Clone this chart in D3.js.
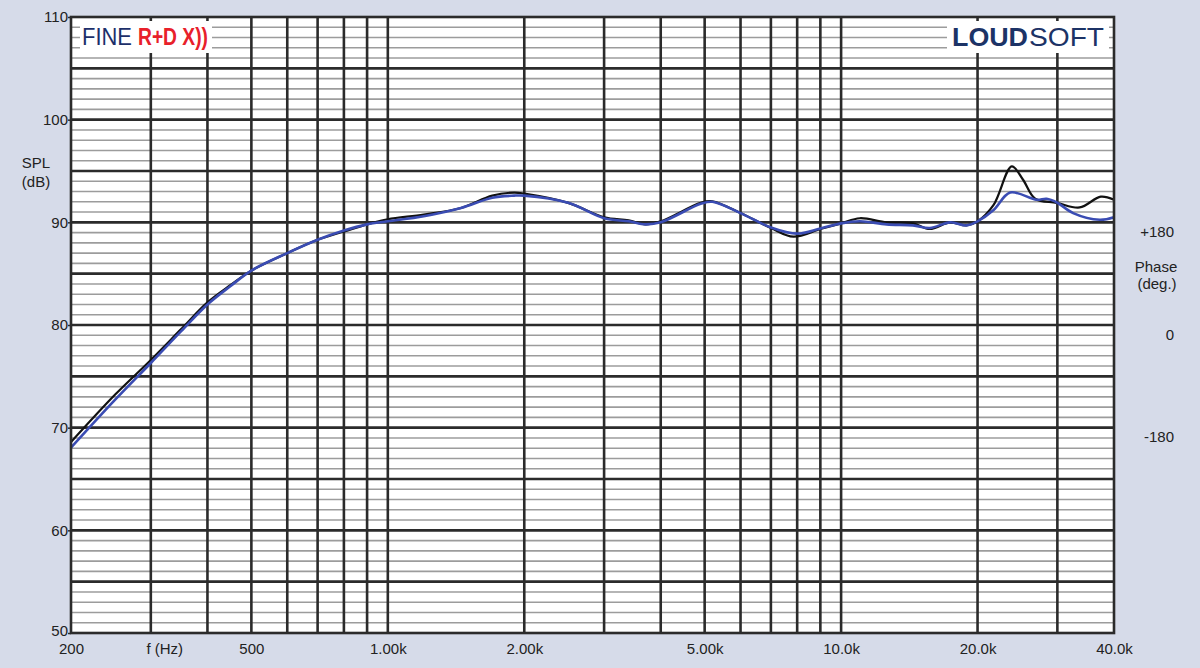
<!DOCTYPE html>
<html>
<head>
<meta charset="utf-8">
<script src="https://cdn.jsdelivr.net/npm/d3@7"></script>
<style>
  html, body { margin: 0; padding: 0; background: #d6dbe9; }
  svg { display: block; }
  text { font-family: "Liberation Sans", Arial, sans-serif; fill: #222; }
</style>
</head>
<body>
<svg id="chart" width="1200" height="668"></svg>
<script>
// ---- Data ----
const measuredFreq = [200, 250, 300, 350, 400, 450, 500, 600, 700, 800, 900, 1000, 1200, 1450, 1700, 1900, 2000, 2500, 3000, 3400, 3700, 4000, 4900, 5200, 6000, 7000, 7850, 9000, 10000, 11000, 12600, 14400, 15700, 17400, 18900, 20000, 21700, 23800, 25200, 26800, 29900, 33600, 37400, 40000];
const measuredSPL  = [68.6, 73.2, 76.6, 79.6, 82.2, 83.9, 85.3, 87.0, 88.3, 89.1, 89.8, 90.3, 90.75, 91.4, 92.6, 92.9, 92.8, 91.9, 90.5, 90.2, 89.8, 90.1, 91.9, 92.05, 90.9, 89.45, 88.6, 89.35, 89.9, 90.4, 90.0, 89.9, 89.35, 90.0, 89.7, 90.1, 91.7, 95.45, 94.15, 92.3, 91.9, 91.45, 92.5, 92.2];

const simFreq = [200, 250, 300, 350, 400, 450, 500, 600, 700, 800, 900, 1000, 1200, 1450, 1700, 1900, 2000, 2500, 3000, 3400, 3700, 4000, 4900, 5200, 6000, 7000, 8000, 9000, 10000, 11000, 12600, 14400, 15700, 17400, 18900, 20000, 21700, 23600, 27000, 28400, 29900, 32500, 37200, 40000];
const simSPL  = [68.05, 72.7, 76.3, 79.4, 82.0, 83.8, 85.3, 87.0, 88.3, 89.2, 89.8, 90.1, 90.6, 91.4, 92.4, 92.6, 92.6, 91.9, 90.4, 90.1, 89.8, 90.0, 91.8, 92.0, 90.9, 89.5, 88.9, 89.4, 89.9, 90.1, 89.8, 89.7, 89.45, 90.0, 89.7, 90.1, 91.2, 92.9, 92.2, 92.3, 91.95, 90.9, 90.25, 90.5];

const freqGrid = [300, 400, 500, 600, 700, 800, 900, 1000, 2000, 3000, 4000, 5000, 6000, 7000, 8000, 9000, 10000, 20000, 30000];
const freqTickValues = [200, 500, 1000, 2000, 5000, 10000, 20000, 40000];
const freqTickLabels = ["200", "500", "1.00k", "2.00k", "5.00k", "10.0k", "20.0k", "40.0k"];
const splTicks = [50, 60, 70, 80, 90, 100, 110];
const phaseTicks = [180, 0, -180];
const phaseTickLabels = ["+180", "0", "-180"];

// ---- Layout ----
const svg = d3.select("#chart");
const L = 71, R = 1114, T = 17, B = 633;
const FS = 15;

const x = d3.scaleLog().domain([200, 40000]).range([L, R]);
const y = d3.scaleLinear().domain([50, 110]).range([B, T]);
const yPhase = d3.scaleLinear().domain([-180, 180]).range([437, 232]);

// plot background
svg.append("rect").attr("x", L).attr("y", T).attr("width", R - L).attr("height", B - T).attr("fill", "#fff");

// minor horizontal grid (1 dB)
const minor = d3.range(51, 110).filter(d => d % 5 !== 0);
svg.append("g").selectAll("line").data(minor).join("line")
  .attr("x1", L).attr("x2", R)
  .attr("y1", d => y(d)).attr("y2", d => y(d))
  .attr("stroke", "#9c9c9c").attr("stroke-width", 1.6);

// major horizontal grid (5 dB)
const major = d3.range(55, 110, 5);
svg.append("g").selectAll("line").data(major).join("line")
  .attr("x1", L).attr("x2", R)
  .attr("y1", d => y(d)).attr("y2", d => y(d))
  .attr("stroke", "#2b2b2b").attr("stroke-width", 2.6);

// vertical grid
svg.append("g").selectAll("line").data(freqGrid).join("line")
  .attr("x1", d => x(d)).attr("x2", d => x(d))
  .attr("y1", T).attr("y2", B)
  .attr("stroke", "#2b2b2b").attr("stroke-width", 2.6);

// logo boxes (cover grid)
svg.append("rect").attr("x", 80).attr("y", 21).attr("width", 132).attr("height", 32).attr("fill", "#fff");
svg.append("rect").attr("x", 947).attr("y", 21).attr("width", 162).attr("height", 32).attr("fill", "#fff");

// curves
const line = d3.line()
  .x(d => x(d[0])).y(d => y(d[1]))
  .curve(d3.curveCatmullRom.alpha(0.5));

svg.append("path")
  .datum(measuredFreq.map((f, i) => [f, measuredSPL[i]]))
  .attr("d", line).attr("fill", "none")
  .attr("stroke", "#111").attr("stroke-width", 2.2);

svg.append("path")
  .datum(simFreq.map((f, i) => [f, simSPL[i]]))
  .attr("d", line).attr("fill", "none")
  .attr("stroke", "#3a4cb3").attr("stroke-width", 2.6);

// frame
svg.append("rect").attr("x", L).attr("y", T).attr("width", R - L).attr("height", B - T)
  .attr("fill", "none").attr("stroke", "#2b2b2b").attr("stroke-width", 2.6);

// left axis labels
const yAxis = d3.axisLeft(y).tickValues(splTicks).tickSize(3).tickPadding(0).tickFormat(d3.format("d"));
const gy = svg.append("g").attr("transform", `translate(${L},0)`).call(yAxis);
gy.select(".domain").remove();
gy.selectAll(".tick line").attr("stroke", "#2b2b2b").attr("stroke-width", 1.5);
gy.selectAll(".tick text").attr("font-size", FS).attr("fill", "#222")
  .attr("font-family", "Liberation Sans, Arial, sans-serif");
gy.selectAll(".tick text").filter(d => d === 50).attr("dy", "0.18em");

// bottom axis labels
const xAxis = d3.axisBottom(x).tickValues(freqTickValues).tickSize(0).tickPadding(10)
  .tickFormat((d, i) => freqTickLabels[i]);
const gx = svg.append("g").attr("transform", `translate(0,${B})`).call(xAxis);
gx.select(".domain").remove();
gx.selectAll(".tick text").attr("font-size", FS).attr("fill", "#222")
  .attr("font-family", "Liberation Sans, Arial, sans-serif");

svg.append("text").attr("x", x(322)).attr("y", 654).attr("text-anchor", "middle")
  .attr("font-size", FS).text("f (Hz)");

// SPL label
svg.append("text").attr("x", 36).attr("y", 168).attr("text-anchor", "middle").attr("font-size", FS).text("SPL");
svg.append("text").attr("x", 36).attr("y", 187).attr("text-anchor", "middle").attr("font-size", FS).text("(dB)");

// phase axis labels
svg.append("g").selectAll("text").data(phaseTicks).join("text")
  .attr("x", 1174).attr("y", d => yPhase(d) + 5).attr("text-anchor", "end")
  .attr("font-size", FS).text((d, i) => phaseTickLabels[i]);
svg.append("text").attr("x", 1156).attr("y", 272).attr("text-anchor", "middle").attr("font-size", FS).text("Phase");
svg.append("text").attr("x", 1157).attr("y", 289).attr("text-anchor", "middle").attr("font-size", FS).text("(deg.)");

// logos
svg.append("text").attr("x", 82).attr("y", 45).attr("font-size", 23)
  .style("fill", "#1c2f6a")
  .attr("textLength", 50).attr("lengthAdjust", "spacingAndGlyphs").text("FINE");
svg.append("text").attr("x", 138).attr("y", 45).attr("font-size", 23).attr("font-weight", "bold")
  .style("fill", "#e8202a")
  .attr("textLength", 70).attr("lengthAdjust", "spacingAndGlyphs").text("R+D X))");

svg.append("text").attr("x", 952).attr("y", 46).attr("font-size", 25).attr("font-weight", "bold")
  .style("fill", "#1c3366")
  .attr("textLength", 76).attr("lengthAdjust", "spacingAndGlyphs").text("LOUD");
svg.append("text").attr("x", 1029).attr("y", 46).attr("font-size", 25)
  .style("fill", "#1c3366")
  .attr("textLength", 75).attr("lengthAdjust", "spacingAndGlyphs").text("SOFT");
</script>
</body>
</html>
